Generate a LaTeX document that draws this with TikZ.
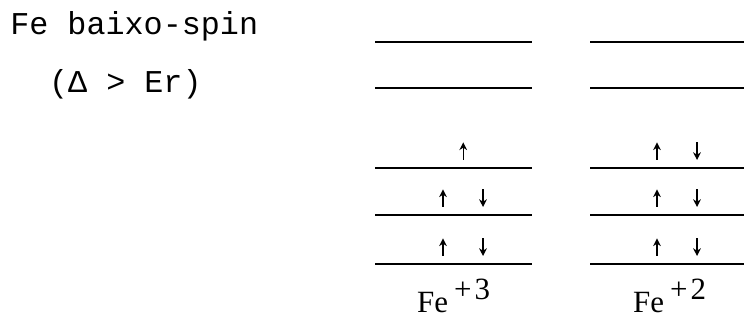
\documentclass[tikz,border=0pt]{standalone}
\usepackage{fontspec}
\setmainfont{Liberation Serif}
\setmonofont{Liberation Mono}
\usetikzlibrary{arrows.meta}
\newcommand{\Nivel}[3]{\draw[line width=1.1pt] (#1,#2) -- (#3,#2);}
\newcommand{\SpinCima}[2]{\draw[line width=1pt,-{Stealth[length=5.5pt,width=5.5pt]}] (#1,#2+0.2) -- (#1,#2+0.64);}
\newcommand{\SpinBaixo}[2]{\draw[line width=1pt,-{Stealth[length=5.5pt,width=5.5pt]}] (#1,#2+0.64) -- (#1,#2+0.2);}

\begin{document}
\begin{tikzpicture}[>=Stealth,scale=1]
  \useasboundingbox (0,0) rectangle (18.6,8);
  % titulo a esquerda
  \node[anchor=base west,inner sep=0,font=\ttfamily\fontsize{22.6}{26}\selectfont] (titulo) at (0.25,7.125) {Fe baixo-spin};
  \node[anchor=base west,inner sep=0,font=\ttfamily\fontsize{22.6}{26}\selectfont] (condicao) at (1.22,5.675) {(Δ > Er)};
  % niveis do Fe+3
  \Nivel{9.375}{6.95}{13.3}
  \Nivel{9.375}{5.8}{13.3}
  \Nivel{9.375}{3.8}{13.3}
  \Nivel{9.375}{2.625}{13.3}
  \Nivel{9.375}{1.4}{13.3}
  % niveis do Fe+2
  \Nivel{14.75}{6.95}{18.6}
  \Nivel{14.75}{5.8}{18.6}
  \Nivel{14.75}{3.8}{18.6}
  \Nivel{14.75}{2.625}{18.6}
  \Nivel{14.75}{1.4}{18.6}
  % eletrons Fe+3 (5 eletrons)
  \SpinCima{11.58}{3.8}
  \SpinCima{11.075}{2.625}
  \SpinBaixo{12.075}{2.625}
  \SpinCima{11.075}{1.4}
  \SpinBaixo{12.075}{1.4}
  % eletrons Fe+2 (6 eletrons)
  \SpinCima{16.425}{3.8}
  \SpinBaixo{17.425}{3.8}
  \SpinCima{16.425}{2.625}
  \SpinBaixo{17.425}{2.625}
  \SpinCima{16.425}{1.4}
  \SpinBaixo{17.425}{1.4}
  % rotulos
  \node[anchor=base west,inner sep=0,font=\fontsize{22}{26}\selectfont] (fe3) at (10.42,0.2) {Fe\hspace{0.2em}\raisebox{0.4em}{\fontsize{22}{26}\selectfont+\hspace{0.1em}3}};
  \node[anchor=base west,inner sep=0,font=\fontsize{22}{26}\selectfont] (fe2) at (15.82,0.2) {Fe\hspace{0.2em}\raisebox{0.4em}{\fontsize{22}{26}\selectfont+\hspace{0.1em}2}};
\end{tikzpicture}
\end{document}
